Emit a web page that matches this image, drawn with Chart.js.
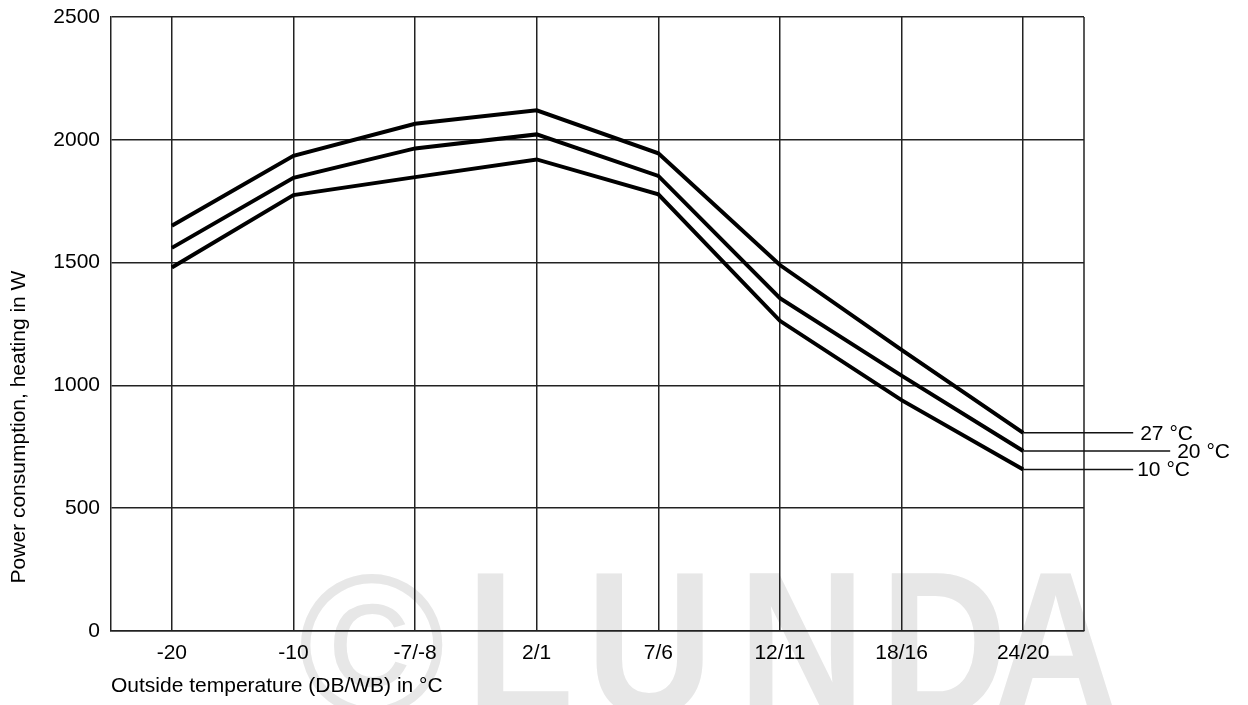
<!DOCTYPE html>
<html><head><meta charset="utf-8">
<script src="https://cdn.jsdelivr.net/npm/chart.js@4"></script>
<style>html,body{margin:0;padding:0;background:#fff;overflow:hidden}</style>
</head><body>
<canvas id="c" width="1248" height="705"></canvas>
<script>
// ---- data ----
const categories = ['-20', '-10', '-7/-8', '2/1', '7/6', '12/11', '18/16', '24/20'];
const seriesNames = ['27 °C', '20 °C', '10 °C'];
const power27 = [1650, 1935, 2065, 2120, 1945, 1490, 1145, 807];
const power20 = [1560, 1845, 1965, 2022, 1853, 1355, 1040, 733];
const power10 = [1480, 1775, 1848, 1920, 1778, 1263, 940, 658];
const yMin = 0, yMax = 2500, yStep = 500;
const xTitle = 'Outside temperature (DB/WB) in °C';
const yTitle = 'Power consumption, heating in W';
const watermarkText = '© LUNDA';

const FONT = '"Liberation Sans", Arial, Helvetica, sans-serif';
const GRID = '#222';
const FS = 21;

const bgPlugin = {
  id: 'bg',
  beforeDraw(chart) {
    const c = chart.ctx;
    c.save();
    c.fillStyle = '#fff';
    c.fillRect(0, 0, chart.width, chart.height);
    c.fillStyle = '#e7e7e7';
    c.textBaseline = 'alphabetic';
    c.textAlign = 'left';
    const chars = Array.from(watermarkText).filter(ch => ch !== ' ');
    const xs = [298, 466, 586, 738, 880, 992];
    chars.forEach((ch, i) => {
      c.save();
      c.translate(xs[i], 714);
      c.scale(ch === '©' ? 1 : 0.86, 1);
      c.font = (ch === '©' ? 'normal 200px ' : 'bold 205px ') + FONT;
      c.fillText(ch, 0, 0);
      c.restore();
    });
    c.restore();
  }
};

const framePlugin = {
  id: 'frame',
  afterDatasetsDraw(chart) {
    const c = chart.ctx, a = chart.chartArea;
    c.save();
    c.strokeStyle = GRID;
    c.lineWidth = 1.5;
    c.beginPath();
    c.moveTo(a.right, a.top);
    c.lineTo(a.right, a.bottom);
    c.stroke();
    // series end labels
    const xs = chart.scales.x, ys = chart.scales.y;
    const ext = [110, 147, 110];
    const gap = [7, 7, 4];
    c.font = FS + 'px ' + FONT;
    c.fillStyle = '#000';
    c.textBaseline = 'middle';
    c.textAlign = 'left';
    chart.data.datasets.forEach((ds, i) => {
      const n = ds.data.length - 1;
      const x0 = xs.getPixelForValue(n);
      const y0 = ys.getPixelForValue(ds.data[n]);
      c.strokeStyle = '#111';
      c.lineWidth = 1.5;
      c.beginPath();
      c.moveTo(x0, y0);
      c.lineTo(x0 + ext[i], y0);
      c.stroke();
      c.fillText(ds.label, x0 + ext[i] + gap[i], y0 + 1);
    });
    // y title
    c.translate(19, 427);
    c.rotate(-Math.PI / 2);
    c.textAlign = 'center';
    c.textBaseline = 'middle';
    c.fillText(yTitle, 0, 0);
    c.restore();
  }
};

const mk = (label, data) => ({
  label, data,
  borderColor: '#000', backgroundColor: '#000',
  borderWidth: 4, pointRadius: 0, tension: 0, fill: false
});

new Chart(document.getElementById('c'), {
  type: 'line',
  data: {
    labels: categories,
    datasets: [mk(seriesNames[0], power27), mk(seriesNames[1], power20), mk(seriesNames[2], power10)]
  },
  options: {
    responsive: false,
    animation: false,
    devicePixelRatio: 1,
    layout: { padding: { top: 17, right: 164, bottom: 0, left: 0 } },
    plugins: { legend: { display: false }, tooltip: { enabled: false } },
    scales: {
      x: {
        offset: true,
        grid: { color: GRID, lineWidth: 1.5, drawTicks: false, offset: false },
        border: { color: GRID, width: 1.5 },
        ticks: { font: { family: FONT, size: FS }, color: '#000', padding: 10, maxRotation: 0 },
        title: { display: true, text: xTitle, align: 'start', color: '#000',
                 font: { family: FONT, size: FS }, padding: { top: 0, bottom: 6 } },
        afterFit(s) { s.height = 74; s.paddingLeft = 0; s.paddingRight = 0; }
      },
      y: {
        min: yMin, max: yMax,
        grid: { color: GRID, lineWidth: 1.5, drawTicks: false },
        border: { color: GRID, width: 1.5 },
        ticks: { stepSize: yStep, font: { family: FONT, size: FS }, color: '#000', padding: 11,
                 callback: v => String(v) },
        afterFit(s) { s.width = 111; s.paddingTop = 0; s.paddingBottom = 0; }
      }
    }
  },
  plugins: [bgPlugin, framePlugin]
});
</script>
</body></html>
